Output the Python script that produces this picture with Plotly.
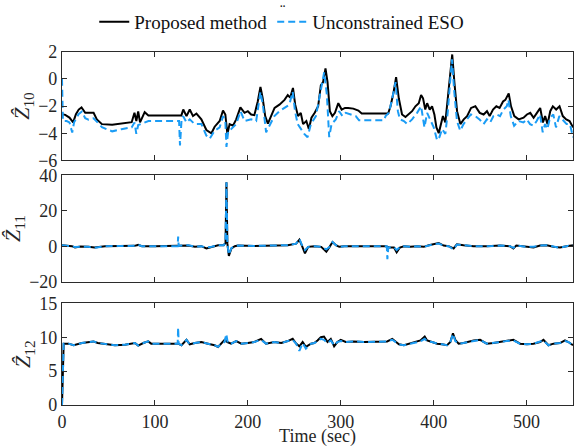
import plotly.graph_objects as go

# ---------------- data (time in sec, value) ----------------
z10_prop = [(0, -2.6), (3.5, -2.65), (8, -2.85), (12, -3.2), (15, -2.6), (18, -2.26), (21, -2.1), (25, -2.5),
            (28.5, -2.5), (34, -2.5), (37.5, -2.98), (43, -3.33), (54, -3.38), (64, -3.29), (75, -3.19), (78, -2.5),
            (80, -3.1), (82, -2.4), (84, -3.2), (89, -2.45), (93, -2.69), (128.5, -2.69), (130.5, -2.26), (134, -2.74),
            (137.5, -2.26), (141, -2.74), (144.7, -2.55), (150, -2.98), (155.4, -3.76), (160.8, -4.0), (164.3, -3.52),
            (169.7, -3.1), (173.3, -2.33), (175.8, -2.62), (178, -4.05), (180.4, -3.33), (184, -3.45), (187.5, -2.98),
            (192, -2.1), (196.5, -2.5), (200, -2.38), (203.6, -2.62), (207, -2.67), (210.7, -1.67), (213.6, -0.6),
            (216, -1.43), (218.7, -2.74), (221.6, -3.29), (225, -2.74), (228.8, -2.14), (234, -1.9), (239.5, -1.55),
            (243, -1.19), (245.6, -1.38), (248.6, -0.67), (251, -1.9), (254, -2.74), (257, -2.5), (259.5, -3.33),
            (263, -3.1), (265.7, -3.69), (268.5, -2.86), (272, -2.5), (275.7, -2.02), (278.6, -0.48), (281, -0.24),
            (283.6, 0.76), (285.8, -0.24), (288.3, -2.38), (291, -2.74), (293.8, -2.5), (297.4, -1.79), (301, -2.26),
            (304.6, -2.14), (308, -2.14), (313.5, -2.19), (319, -2.33), (322.6, -2.55), (351, -2.55), (353.6, -2.02),
            (357, -0.95), (359.6, 0.12), (362.5, -1.43), (366, -2.62), (369.7, -2.81), (373, -2.62), (376.8, -2.38),
            (380.4, -2.02), (384, -1.79), (386.5, -1.19), (388.6, -1.43), (391, -2.26), (393, -1.79), (395.8, -2.26),
            (398.3, -2.02), (400.8, -2.62), (403, -3.57), (405.5, -4.0), (408, -3.33), (410, -2.74), (412.6, -3.21),
            (415, -1.67), (417.3, 0.0), (420, 1.79), (422.3, -0.24), (425.2, -2.38), (428.8, -3.33), (432.4, -2.98),
            (436, -2.74), (440.3, -2.14), (444.9, -2.02), (449.6, -2.5), (453.8, -2.62), (457.4, -2.38), (460.3, -2.74),
            (463.9, -2.26), (467.5, -2.02), (471, -2.14), (474.7, -1.67), (477.2, -1.55), (480.8, -1.07), (483.3, -2.02),
            (486.8, -2.74), (491.5, -2.98), (496.8, -2.86), (500.4, -2.62), (504, -2.5), (507.6, -2.86), (511.2, -2.5),
            (514.7, -2.14), (517.6, -3.21), (520, -2.74), (522.6, -3.33), (525.5, -2.38), (528.3, -2.02), (531.9, -2.26),
            (535.5, -2.02), (539, -2.74), (542.7, -2.98), (546.3, -3.1), (550, -3.57)]

z10_eso = [(0, 0.0), (1.0, -3.1), (5, -3.1), (8, -3.2), (11, -3.95), (13, -3.2), (17.8, -2.6), (21.4, -2.4),
           (25, -2.9), (28.5, -3.0), (34, -2.9), (37.5, -3.15), (43, -3.55), (48, -3.7), (54, -3.86), (64, -3.7),
           (75, -3.57), (78, -3.21), (80, -4.05), (82, -3.4), (89.3, -3.21), (93, -3.1), (126, -3.1), (127, -4.9),
           (128.6, -3.1), (130.4, -2.74), (134, -3.21), (137.5, -2.98), (142.8, -3.33), (150, -3.33), (155.4, -4.17),
           (159, -4.4), (164.3, -3.81), (169.7, -3.57), (173.3, -2.74), (175.8, -3.1), (177, -5.0), (179, -3.8),
           (182.2, -3.69), (187.5, -3.33), (192.2, -2.38), (196.5, -3.1), (203.6, -2.98), (209, -3.1), (213.6, -0.95),
           (216.2, -1.9), (219.7, -3.93), (225, -3.21), (228.6, -2.74), (234, -2.38), (239.3, -2.14), (244.7, -1.9),
           (248.3, -0.95), (250.8, -2.38), (253.7, -3.33), (257.2, -3.69), (260.8, -4.05), (264.3, -4.29),
           (267.9, -3.33), (273.3, -2.74), (277.9, -1.19), (282.2, 0.48), (285.1, -1.19), (287.6, -4.29),
           (290.1, -3.33), (294.7, -2.98), (298.3, -2.38), (301.9, -2.74), (305.4, -2.5), (310.8, -2.62),
           (316.2, -2.74), (319.7, -3.05), (346.5, -3.05), (348.3, -2.74), (351.9, -2.5), (355.5, -1.43),
           (359, -0.24), (361.5, -2.38), (363.7, -2.98), (368, -3.1), (371.5, -3.33), (376.8, -2.98), (382.2, -2.5),
           (386.5, -2.02), (390.1, -3.57), (393, -2.5), (396.5, -3.1), (400.1, -3.57), (403.7, -4.52), (406.2, -4.29),
           (409.1, -3.69), (412.6, -4.05), (415.1, -2.5), (417.3, -0.71), (419.7, 1.43), (422.2, -0.95), (425.1, -3.1),
           (428.6, -3.81), (432.2, -3.33), (435.8, -2.98), (440.1, -2.62), (444.8, -2.74), (449.4, -2.98),
           (453.7, -3.33), (457.3, -2.98), (460.8, -3.21), (464.4, -2.74), (468, -2.62), (471.5, -2.74), (475.1, -2.26),
           (478.7, -2.02), (480.5, -1.55), (483, -2.74), (486.6, -3.45), (491.2, -3.1), (496.6, -3.21), (500.2, -2.98),
           (503.8, -3.33), (507.3, -3.45), (510.9, -3.1), (514.5, -2.62), (517.4, -3.93), (519.9, -3.33),
           (522.4, -3.69), (525.3, -2.86), (528.8, -2.62), (531.7, -3.57), (535.3, -2.74), (539.5, -3.1),
           (543.1, -3.33), (546.7, -3.33), (550, -4.29)]

z11_prop = [(0, 0.55), (6, 0.36), (10.7, 0.0), (14, -0.73), (20, -0.2), (28.5, -0.36), (35, -0.73), (46.4, 0.0),
            (64, 0.18), (78, 0.2), (82, 0.73), (86, 0.0), (100, 0.0), (125, 0.0), (136, 0.36), (143, -0.36),
            (150, 0.0), (155.4, -1.27), (161, -0.36), (168, 0.55), (174, 0.55), (176, 1.82), (177, 36.0), (178, 1.45),
            (179.6, -5.45), (182.4, -1.27), (186, 0.0), (189.3, 0.36), (207, 0.18), (225, 0.36), (243, 0.55),
            (252, 1.45), (255.5, 3.64), (258, 0.55), (261.5, -4.0), (265, -0.36), (271.5, 0.0), (279, -0.36),
            (284.5, -3.09), (288, -0.36), (291.2, 2.36), (294.8, 0.55), (298.4, -0.36), (303.8, 0.0), (310.9, 0.0),
            (318, 0.36), (325, 0.0), (348.3, 0.0), (351.9, -0.73), (357.3, -0.73), (360.2, -3.45), (363.7, -0.73),
            (368, 0.0), (375, -0.36), (382.3, 0.0), (389.4, -0.36), (394.8, 0.55), (400, 1.09), (405.4, 1.82),
            (410.8, 0.36), (416.1, 0.0), (421.5, -1.27), (425, 1.09), (432.2, 0.55), (443, 0.0), (457.2, 0.0),
            (471.5, 0.36), (482.2, 0.0), (485.8, -1.27), (489, 0.36), (500.3, -0.36), (507.5, -0.73), (514.6, 0.36),
            (521.7, 0.55), (528.9, -0.36), (536, -0.73), (543, 0.0), (550, 0.55)]

z11_eso = [(0, 0.55), (6, 0.36), (10.7, 0.0), (14, -0.5), (20, -0.2), (28.5, -0.36), (35, -0.9), (46.4, 0.0),
           (64, 0.18), (78, 0.2), (82, 0.73), (86, 0.0), (100, 0.0), (124.5, 0.0), (125, 5.45), (125.6, 0.2),
           (136, 0.55), (143, -0.2), (150, 0.0), (155.4, -0.73), (161, -0.36), (168, 0.55), (174, 0.55), (176, 1.82),
           (177, 36.0), (178, 1.45), (179.6, -4.8), (182.4, -1.0), (186, 0.0), (189.3, 0.36), (207, 0.18),
           (225, 0.36), (243, 0.55), (252, 1.45), (255.5, 4.18), (258, 0.9), (261.5, -2.18), (265, -0.36),
           (271.5, 0.0), (279, -0.36), (284.5, -1.82), (288, -0.36), (291.2, 2.36), (294.8, 0.55), (298.4, -0.36),
           (303.8, 0.0), (325, 0.0), (349.6, 0.0), (350.2, -7.27), (351.2, -0.73), (357.3, -0.5), (360.2, -2.18),
           (363.7, -0.5), (368, 0.0), (375, -0.36), (382.3, 0.0), (389.4, -0.36), (394.8, 0.55), (400, 1.09),
           (405.4, 1.45), (410.8, 0.36), (416.1, 0.0), (421.5, -1.82), (425, 0.9), (432.2, 0.55), (443, 0.0),
           (457.2, 0.0), (471.5, 0.36), (482.2, 0.0), (485.8, -0.9), (489, 0.36), (500.3, -0.36), (507.5, -0.36),
           (514.6, 0.36), (521.7, 0.55), (528.9, -0.36), (536, -0.9), (543, 0.0), (550, 0.55)]

z12_prop = [(0, 0.0), (1.8, 9.05), (7.1, 9.05), (12.5, 8.81), (21.4, 9.14), (33.9, 9.38), (38.5, 9.14),
            (50, 8.95), (57, 8.81), (67.8, 8.9), (78.5, 9.14), (82, 8.76), (87.5, 9.14), (92.8, 9.38), (96, 9.05),
            (125, 9.05), (128.6, 8.81), (134, 9.62), (137.5, 8.95), (143, 9.14), (150, 9.29), (157, 9.05),
            (164.3, 8.81), (168, 8.57), (171.5, 9.05), (175, 9.62), (178, 9.29), (182, 9.05), (187.5, 9.43),
            (193, 9.05), (200, 9.14), (207, 9.29), (214.3, 9.76), (219.6, 9.05), (228.6, 9.29), (236, 9.14),
            (243, 9.43), (248.3, 9.76), (252, 9.05), (255.5, 8.67), (259, 9.29), (262.5, 8.57), (268, 9.05),
            (271.5, 9.14), (275, 9.52), (278.6, 10.0), (282, 10.1), (285.8, 9.29), (289.3, 9.76), (292.9, 8.67),
            (296.4, 9.29), (300, 9.62), (305.4, 9.29), (314, 9.38), (325, 9.29), (343, 9.29), (350, 9.38),
            (355.5, 9.76), (359, 9.29), (362.6, 8.95), (368, 8.81), (375, 9.05), (380.4, 9.29), (385.8, 9.52),
            (390.4, 10.1), (393, 9.52), (398.3, 9.29), (403.7, 9.05), (409, 8.95), (414.4, 8.81), (418, 9.29),
            (420.8, 10.57), (423.3, 9.62), (426.9, 9.05), (432.2, 9.14), (443, 9.52), (450, 9.62), (457.2, 9.05),
            (464.4, 9.14), (471.5, 9.29), (478.6, 9.52), (485.8, 9.62), (493, 9.05), (500.3, 8.95), (507.5, 9.05),
            (514.6, 9.29), (518.2, 9.62), (523.6, 8.81), (529, 9.05), (536, 9.14), (541.4, 9.52), (545, 9.29),
            (550, 8.81)]

z12_eso = [(0, 0.0), (1.8, 9.05), (7.1, 9.05), (12.5, 8.81), (21.4, 9.14), (33.9, 9.38), (38.5, 9.14),
           (50, 8.95), (57, 8.81), (67.8, 8.9), (78.5, 9.14), (82, 8.76), (87.5, 9.14), (92.8, 9.38), (96, 9.05),
           (124.5, 9.05), (125, 11.43), (125.6, 9.05), (128.6, 8.81), (134, 9.62), (137.5, 8.95), (143, 9.14),
           (150, 9.29), (157, 9.05), (164.3, 8.81), (168, 8.57), (171.5, 9.05), (175, 9.29), (176.8, 10.48),
           (178.5, 9.14), (182, 9.05), (187.5, 9.43), (193, 9.05), (200, 9.14), (207, 9.29), (214.3, 9.62),
           (219.6, 9.05), (228.6, 9.29), (236, 9.14), (243, 9.43), (248.3, 9.62), (252, 9.05), (255.5, 8.0),
           (259, 9.14), (262.5, 8.33), (268, 9.05), (271.5, 9.14), (275, 9.38), (278.6, 9.76), (282, 9.62),
           (285.8, 9.14), (289.3, 9.52), (292.9, 8.81), (296.4, 9.29), (300, 9.43), (305.4, 9.29), (314, 9.38),
           (325, 9.29), (343, 9.29), (350, 9.38), (355.5, 9.62), (359, 9.29), (362.6, 8.95), (368, 8.81),
           (375, 9.05), (380.4, 9.29), (385.8, 9.38), (390.4, 9.76), (393, 9.38), (398.3, 9.29), (403.7, 9.05),
           (409, 8.95), (414.4, 8.81), (418, 9.29), (420.8, 10.48), (423.3, 9.43), (426.9, 9.05), (432.2, 9.14),
           (443, 9.43), (450, 9.62), (457.2, 9.05), (464.4, 9.14), (471.5, 9.29), (478.6, 9.43), (485.8, 9.52),
           (493, 9.05), (500.3, 8.95), (507.5, 9.05), (514.6, 9.29), (518.2, 9.52), (523.6, 8.81), (529, 9.05),
           (536, 9.14), (541.4, 9.43), (545, 9.29), (550, 8.81)]

series_names = ["Proposed method", "Unconstrained ESO"]
y_titles = ["<i>Ẑ</i><sub>10</sub>", "<i>Ẑ</i><sub>11</sub>", "<i>Ẑ</i><sub>12</sub>"]
y_ranges = [[-6, 2], [-20, 40], [0, 15]]
y_ticks = [[-6, -4, -2, 0, 2], [-20, 0, 20, 40], [0, 5, 10, 15]]
x_ticks = [0, 100, 200, 300, 400, 500]

# ---------------- styling ----------------
FONT = "Times New Roman, Liberation Serif, serif"
BLACK = "#000000"
BLUE = "#1a9cf5"
AXC = "#2b2b2b"
TXT = "#262626"

fig = go.Figure()
panels = [(z10_prop, z10_eso), (z11_prop, z11_eso), (z12_prop, z12_eso)]
for i, (p, e) in enumerate(panels):
    suffix = "" if i == 0 else str(i + 1)
    for j, (ser, color, dash) in enumerate([(p, BLACK, "solid"), (e, BLUE, "7px,4px")]):
        fig.add_trace(go.Scatter(
            x=[a for a, b in ser], y=[b for a, b in ser], mode="lines",
            line=dict(color=color, width=2, dash=dash),
            name=series_names[j], showlegend=(i == 0), legendgroup=series_names[j],
            xaxis="x" + suffix, yaxis="y" + suffix))

# domains (pixel positions translated to paper units; plot area 40..405 px)
domains = [[0.692, 1.0], [0.349, 0.650], [0.0, 0.2877]]

axis_common = dict(showline=True, linecolor=AXC, linewidth=1.2, mirror="ticks",
                   ticks="inside", ticklen=5, tickwidth=1, tickcolor=AXC,
                   showgrid=False, zeroline=False,
                   tickfont=dict(family=FONT, size=18, color=TXT))
layout = dict(
    width=575, height=447,
    margin=dict(l=62, r=1, t=40, b=42),
    plot_bgcolor="white", paper_bgcolor="white",
    font=dict(family=FONT, color=TXT),
    legend=dict(orientation="h", xref="container", yref="container", x=0.49, xanchor="center",
                y=0.951, yanchor="middle", font=dict(family=FONT, size=19, color="#111"),
                bgcolor="rgba(0,0,0,0)", itemwidth=30, tracegroupgap=0),
    showlegend=True,
)
for i in range(3):
    s = "" if i == 0 else str(i + 1)
    xa = dict(axis_common, domain=[0, 1], range=[0, 550], tickvals=x_ticks,
              anchor="y" + s, showticklabels=(i == 2))
    if i == 2:
        xa["title"] = dict(text="Time (sec)", font=dict(family=FONT, size=18, color=TXT), standoff=0)
    else:
        xa["matches"] = "x3"
    ya = dict(axis_common, domain=domains[i], range=y_ranges[i], tickvals=y_ticks[i],
              anchor="x" + s,
              title=dict(text=y_titles[i], font=dict(family=FONT, size=22, color=TXT), standoff=2))
    layout["xaxis" + s] = xa
    layout["yaxis" + s] = ya

fig.update_layout(**layout)
fig.add_annotation(text="¨", xref="paper", yref="paper", x=0.432, y=1.145, showarrow=False,
                   font=dict(family=FONT, size=16, color="#111"))

fig.write_html("out.html")
